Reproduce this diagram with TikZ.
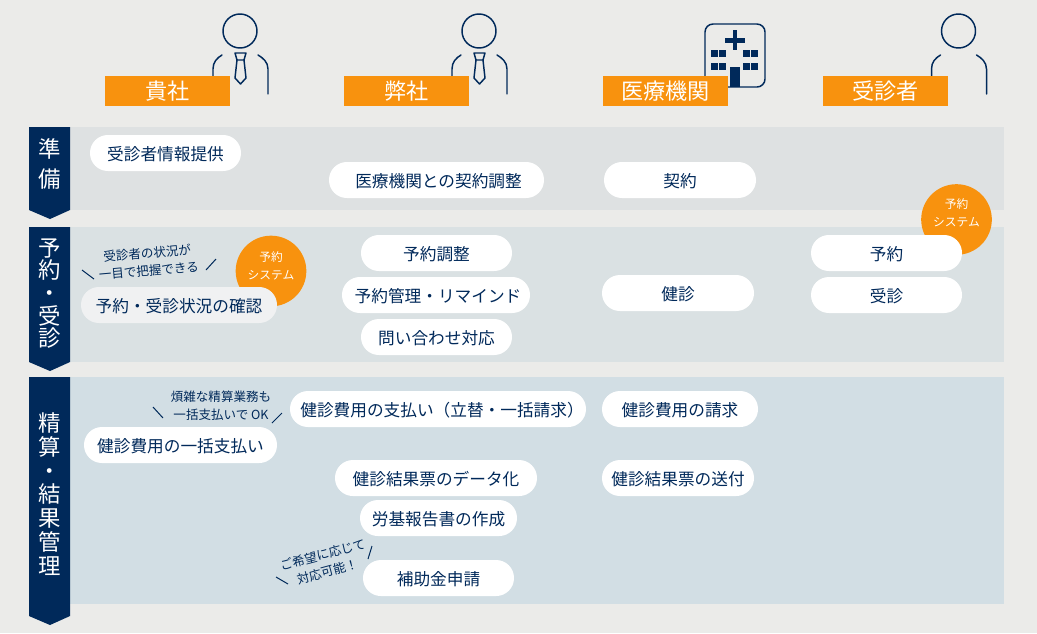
\documentclass[tikz,border=0pt]{standalone}
\usepackage{fontspec}
\setmainfont{Noto Sans CJK JP}
\definecolor{bgc}{HTML}{EBEBE9}
\definecolor{bandA}{HTML}{DEE1E2}
\definecolor{bandB}{HTML}{DAE1E3}
\definecolor{bandC}{HTML}{D2DEE4}
\definecolor{navy}{HTML}{00295A}
\definecolor{orangec}{HTML}{F8920E}
\definecolor{softw}{HTML}{F0F1F2}
\tikzset{
  pill/.style={fill=white,rounded corners=13.4pt,minimum height=27pt,inner sep=0pt,text=navy,font=\fontsize{12.5}{14}\selectfont,text height=11pt,text depth=0pt,minimum width=#1*0.75pt},
  head/.style={fill=orangec,minimum width=93.75pt,minimum height=22.5pt,inner sep=0pt,text=white,font=\fontsize{16.6}{18}\selectfont},
  tabtxt/.style={text=white,align=center,inner sep=0pt,font=\fontsize{16.8}{#1}\selectfont},
  note/.style={text=navy,align=center,inner sep=0pt,font=\fontsize{9.4}{13.2}\selectfont},
  sys/.style={circle,fill=orangec,minimum size=53pt,inner sep=0pt},
  systxt/.style={text=white,align=center,inner sep=0pt,font=\fontsize{8.8}{13.5}\selectfont},
  icon/.style={draw=navy,line width=1.1pt,line cap=round,line join=round},
  mark line/.style={draw=navy,line width=0.75pt},
  tabfill/.style={fill=navy,draw=none}
}
\newcommand{\person}[2]{%
  \begin{scope}[shift={(#1,0)}]
    \draw[icon] (0,31) circle (17);
    \draw[icon] (-27,76) -- (-27,69) .. controls (-27,62) and (-23,58) .. (-18,55);
    \draw[icon] (18,55) .. controls (23,58) and (28,62) .. (28,69) -- (28,94);
    #2
  \end{scope}}
\newcommand{\necktie}{%
  \draw[icon] (-5,53) -- (6,53) -- (4,60) -- (-3,60) -- cycle;
  \draw[icon] (-3,60) -- (-5,78) -- (0.5,84) -- (6,78) -- (4,60);}
\begin{document}
\begin{tikzpicture}[x=0.75pt,y=-0.75pt]
\useasboundingbox[fill=bgc] (0,0) rectangle (1037,633);
% bands
\fill[bandA] (29,127) rectangle (1004,210);
\fill[bandB] (29,227) rectangle (1004,362);
\fill[bandC] (29,377) rectangle (1004,604);
\fill[tabfill] (29,127) -- (70,127) -- (70,210) -- (50,219) -- (29,210) -- cycle;
\fill[tabfill] (29,227) -- (70,227) -- (70,362) -- (50,371) -- (29,362) -- cycle;
\fill[tabfill] (29,377) -- (70,377) -- (70,616) -- (50,625) -- (29,616) -- cycle;
\node[tabtxt=22.5] (tabA) at (50,164) {準\\備};
\node[tabtxt=17] (tabB) at (50,293.5) {予\\約\\・\\受\\診};
\node[tabtxt=17.8] (tabC) at (50,494) {精\\算\\・\\結\\果\\管\\理};
% icons
\person{240}{\necktie}
\person{479}{\necktie}
\person{958.5}{}
\draw[icon,rounded corners=6pt] (705,24) rectangle (765,87);
\fill[navy] (725,38) rectangle (745,42.5);
\fill[navy] (732.7,30) rectangle (737.3,50);
\foreach \x in {711,719,743,751} \foreach \y in {50,63} \fill[navy] (\x,\y) rectangle +(6.5,6.5);
\fill[navy] (730,67) rectangle (740,87);
% headers
\node[head] (hA) at (167.5,91) {貴社};
\node[head] (hB) at (406.5,91) {弊社};
\node[head] (hC) at (665.5,91) {医療機関};
\node[head] (hD) at (885.5,91) {受診者};
% system circles
\node[sys] (sysL) at (271,271) {};
\node[systxt] (sysLt) at (271,266) {予約\\システム};
\node[sys] (sysR) at (956.5,219.5) {};
\node[systxt] (sysRt) at (956.5,213) {予約\\システム};
% pills
\node[pill=151] (p1) at (165.5,153) {受診者情報提供};
\node[pill=215] (p2) at (436.5,180) {\hspace{3pt}医療機関との契約調整};
\node[pill=152] (p3) at (680,180) {契約};
\node[pill=151] (p4) at (436.5,253) {予約調整};
\node[pill=188] (p5) at (436,295) {\hspace{3pt}予約管理・リマインド};
\node[pill=151] (p6) at (436.5,337) {問い合わせ対応};
\node[pill=152] (p7) at (678,293) {健診};
\node[pill=151] (p8) at (886.5,253) {予約};
\node[pill=151] (p9) at (886.5,295) {受診};
\node[pill=196,fill=softw] (p10) at (179,305) {予約・受診状況の確認};
\node[pill=296] (p11) at (438,409) {\hspace{6pt}健診費用の支払い（立替・一括請求）};
\node[pill=156] (p12) at (680,409) {健診費用の請求};
\node[pill=193] (p13) at (180.5,445) {健診費用の一括支払い};
\node[pill=202] (p14) at (436,478) {健診結果票のデータ化};
\node[pill=152] (p15) at (678,478) {健診結果票の送付};
\node[pill=157] (p16) at (438.5,518) {労基報告書の作成};
\node[pill=151] (p17) at (438.5,578) {補助金申請};
% notes
\node[note,rotate=5] (n1) at (148,262) {受診者の状況が\\一目で把握できる};
\node[note] (n2) at (221,406) {煩雑な精算業務も\\一括支払いで OK};
\node[note,rotate=15] (n3) at (325,563) {ご希望に応じて\\対応可能！};
\draw[mark line] (82,270) -- (94,279);
\draw[mark line] (206,270) -- (216,259);
\draw[mark line] (153,407) -- (163,418);
\draw[mark line] (272,423) -- (282,413);
\draw[mark line] (276,577) -- (288,584);
\draw[mark line] (372,546) -- (368,559);
\end{tikzpicture}
\end{document}
